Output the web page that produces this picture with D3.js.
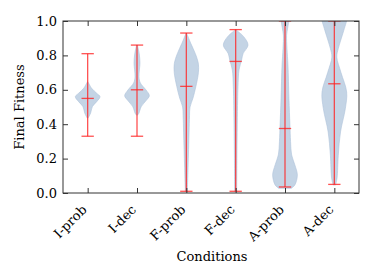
<!DOCTYPE html>
<html><head><meta charset="utf-8">
<script src="https://cdn.jsdelivr.net/npm/d3@7"></script>
<style>
html,body{margin:0;padding:0;background:#fff;}
svg text{font-family:"DejaVu Serif",serif;fill:#000;}
</style></head>
<body><svg id="c" width="374" height="277"></svg>
<script>
const categories = ["I-prob","I-dec","F-prob","F-dec","A-prob","A-dec"];
const mins    = [0.33, 0.33, 0.01, 0.01, 0.035, 0.05];
const maxs    = [0.81, 0.86, 0.93, 0.95, 1.0, 1.0];
const medians = [0.55, 0.60, 0.62, 0.765, 0.375, 0.635];
// density profiles: sample points (value) and relative density (max=1)
const profY = [
  [0.436,0.465,0.502,0.531,0.56,0.58,0.609,0.647],
  [0.453,0.465,0.502,0.54,0.566,0.599,0.64,0.675,0.72,0.755,0.81,0.86],
  [0.008,0.15,0.35,0.45,0.5,0.552,0.618,0.70,0.755,0.81,0.87,0.928],
  [0.008,0.2,0.4,0.54,0.62,0.715,0.773,0.81,0.86,0.909,0.948],
  [0.027,0.047,0.105,0.163,0.221,0.3,0.395,0.55,0.744,0.84,0.918,0.96,1.0],
  [0.047,0.087,0.22,0.355,0.49,0.587,0.70,0.79,0.84,0.918,1.0]
];
const profD = [
  [0.04,0.24,0.38,0.73,1.0,0.73,0.32,0.02],
  [0.05,0.16,0.34,0.77,1.0,0.73,0.27,0.16,0.2,0.24,0.18,0.03],
  [0.08,0.14,0.22,0.26,0.3,0.54,0.77,0.98,0.97,0.73,0.36,0.03],
  [0.08,0.1,0.13,0.16,0.19,0.27,0.48,0.6,1.0,0.65,0.03],
  [0.5,0.8,1.0,0.8,0.54,0.45,0.4,0.32,0.24,0.16,0.13,0.22,0.32],
  [0.1,0.22,0.32,0.5,0.89,1.0,0.54,0.2,0.32,0.65,1.0]
];
const yTicks = [0.0,0.2,0.4,0.6,0.8,1.0];

const svg = d3.select("#c");
const L=63, R=359, T=21, B=193;
const x = d3.scaleLinear().domain([0.5,6.5]).range([L,R]);
const y = d3.scaleLinear().domain([0,1]).range([B,T]);
const halfW = 0.25, capW = 0.125;

svg.append("defs").append("clipPath").attr("id","clip")
  .append("rect").attr("x",L).attr("y",T).attr("width",R-L).attr("height",B-T);
const g = svg.append("g").attr("clip-path","url(#clip)");

categories.forEach((c,i)=>{
  const pos = i+1;
  const pts = profY[i].map((v,k)=>({v, d:profD[i][k]}));
  const area = d3.area()
    .y(p=>y(p.v))
    .x0(p=>x(pos - p.d*halfW))
    .x1(p=>x(pos + p.d*halfW))
    .curve(d3.curveCatmullRom.alpha(0.5));
  g.append("path").attr("d",area(pts))
    .attr("fill","#c4d4e5").attr("stroke","#aec3da").attr("stroke-width",0.6);
});

const red = g.append("g").attr("stroke","#ff2020").attr("stroke-opacity",0.78).attr("stroke-width",1.3);
categories.forEach((c,i)=>{
  const pos=i+1;
  red.append("line").attr("x1",x(pos)).attr("x2",x(pos)).attr("y1",y(mins[i])).attr("y2",y(maxs[i]));
  [mins[i],maxs[i],medians[i]].forEach(v=>{
    red.append("line").attr("x1",x(pos-capW)).attr("x2",x(pos+capW)).attr("y1",y(v)).attr("y2",y(v));
  });
});

// frame
svg.append("rect").attr("x",L).attr("y",T).attr("width",R-L).attr("height",B-T)
  .attr("fill","none").attr("stroke","#333").attr("stroke-width",1);

// axes with inward ticks
const tl = 5;
const axL = d3.axisLeft(y).tickValues(yTicks).tickFormat(d3.format(".1f")).tickSizeInner(-tl).tickSizeOuter(0).tickPadding(6);
const gl = svg.append("g").attr("transform",`translate(${L},0)`).call(axL);
const axR = d3.axisRight(y).tickValues(yTicks).tickFormat("").tickSizeInner(-tl).tickSizeOuter(0);
const gr = svg.append("g").attr("transform",`translate(${R},0)`).call(axR);
const axB = d3.axisBottom(x).tickValues(d3.range(1,7)).tickFormat((d)=>categories[d-1]).tickSizeInner(-tl).tickSizeOuter(0);
const gb = svg.append("g").attr("transform",`translate(0,${B})`).call(axB);
const axT = d3.axisTop(x).tickValues(d3.range(1,7)).tickFormat("").tickSizeInner(-tl).tickSizeOuter(0);
const gt = svg.append("g").attr("transform",`translate(0,${T})`).call(axT);
[gl,gr,gb,gt].forEach(a=>{a.select(".domain").remove(); a.selectAll("line").attr("stroke","#333");});
gl.selectAll("text").attr("font-size",13).attr("font-family","DejaVu Serif");
gb.selectAll("text").attr("font-size",13).attr("font-family","DejaVu Serif")
  .attr("text-anchor","end").attr("dy",null).attr("y",0)
  .attr("transform","translate(-3,15) rotate(-45)")
  .attr("dominant-baseline","middle");

svg.append("text").attr("x",212).attr("y",261).attr("text-anchor","middle")
  .attr("font-size",13).text("Conditions");
svg.append("text").attr("transform","translate(24,107) rotate(-90)").attr("text-anchor","middle")
  .attr("font-size",13).text("Final Fitness");
</script></body></html>
